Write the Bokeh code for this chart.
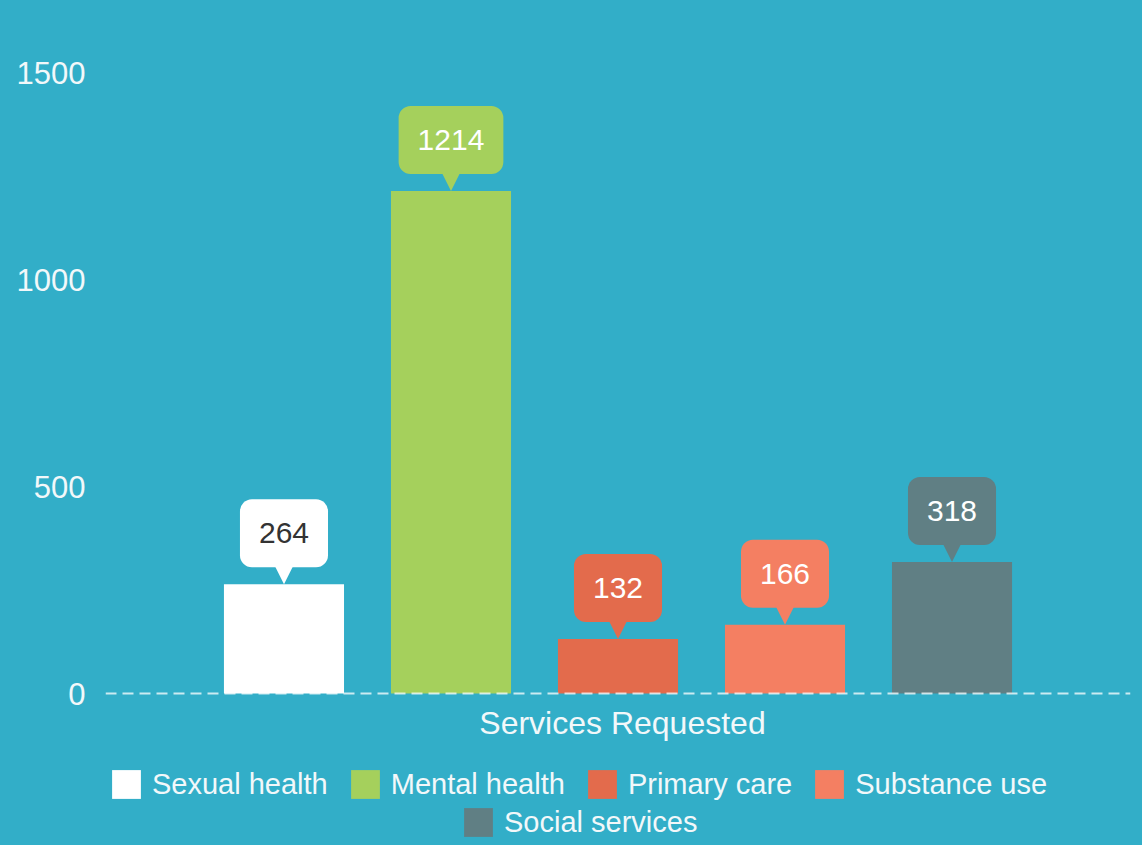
from bokeh.plotting import figure
from bokeh.models import (ColumnDataSource, FactorRange, Range1d, FixedTicker, Span, Label,
                          Legend, LegendItem, Arrow, NormalHead)
from bokeh.core.properties import value, field
from bokeh.embed import file_html
from bokeh.resources import INLINE

# ---- data ----
services = ["Sexual health", "Mental health", "Primary care", "Substance use", "Social services"]
counts = [264, 1214, 132, 166, 318]
bar_colors = ["#FFFFFF", "#A5D05C", "#E36B4C", "#F47F62", "#607F84"]
label_colors = ["#333333", "#FFFFFF", "#FFFFFF", "#FFFFFF", "#FFFFFF"]
y_ticks = [0, 500, 1000, 1500]
x_title = "Services Requested"

# ---- style / layout ----
BG = "#32AEC8"
TXT = "#F2F8FA"
FONT = "Liberation Sans"
W, H = 1142, 845
B_LEFT, B_RIGHT, B_TOP = 105, 12, 10
FRAME_H = H - B_TOP
Y_MIN, Y_MAX = -367, 1650      # room below zero holds the axis title and legend
upp = (Y_MAX - Y_MIN) / FRAME_H  # data units per pixel
POINTER = 17                   # pointer height in px

src = ColumnDataSource(dict(
    services=services, counts=counts, colors=bar_colors, label_colors=label_colors,
    labels=[str(c) for c in counts],
    tip_start=[c + POINTER * upp for c in counts],
))

p = figure(x_range=FactorRange(factors=services, range_padding=0.2275),
           y_range=Range1d(Y_MIN, Y_MAX),
           width=W, height=H,
           x_axis_location=None, output_backend="svg", toolbar_location=None,
           background_fill_color=BG, border_fill_color=None,
           min_border_left=B_LEFT, min_border_right=B_RIGHT,
           min_border_top=B_TOP, min_border_bottom=0)
p.styles = {"background-color": BG}
p.outline_line_color = None

p.xgrid.visible = False
p.ygrid.visible = False

ax = p.yaxis[0]
ax.ticker = FixedTicker(ticks=y_ticks)
ax.axis_line_color = None
ax.major_tick_line_color = None
ax.minor_tick_line_color = None
ax.major_tick_in = 0
ax.major_tick_out = 0
ax.major_label_standoff = 20
ax.major_label_text_font_size = "31px"
ax.major_label_text_color = TXT
ax.major_label_text_font = FONT

r = p.vbar(x="services", top="counts", width=0.719, source=src,
           fill_color="colors", line_color=None)

p.add_layout(Span(location=0, dimension="width", line_color="white", line_alpha=0.75,
                  line_width=2, line_dash="11 6"))

p.add_layout(Arrow(end=NormalHead(size=22, fill_color=field("colors"), line_color=None),
                   x_start="services", x_end="services", y_start="tip_start", y_end="counts",
                   source=src, line_alpha=0))

p.text(x="services", y="counts", text="labels", source=src,
       text_color="label_colors", text_font=value(FONT), text_font_size="30px",
       text_align="center", text_baseline="middle", anchor="bottom_center",
       y_offset=-POINTER, background_fill_color="colors",
       padding=(19, 24), border_radius=12)

p.add_layout(Label(x=517, y=123, x_units="screen", y_units="screen", text=x_title,
                   text_align="center", text_baseline="middle", text_font_size="32px",
                   text_color=TXT, text_font=FONT))

def make_legend(idx, loc):
    items = [LegendItem(label=value(services[i]), renderers=[r], index=i) for i in idx]
    return Legend(items=items, orientation="horizontal", location=loc,
                  label_text_font_size="29px", label_text_color=TXT, label_text_font=FONT,
                  glyph_width=36, glyph_height=36, label_height=29, label_standoff=8,
                  spacing=19, padding=0, margin=0,
                  background_fill_alpha=0, border_line_alpha=0)

p.add_layout(make_legend([0, 1, 2, 3], (3, 43)))
p.add_layout(make_legend([4], (355, 5)))

open("out.html", "w").write(file_html(p, INLINE))
